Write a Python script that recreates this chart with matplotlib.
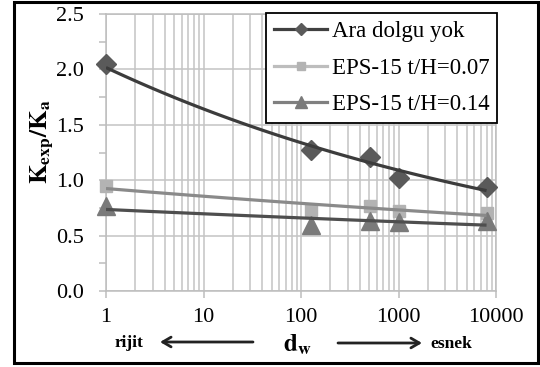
import numpy as np
import matplotlib.pyplot as plt
from matplotlib.lines import Line2D
from matplotlib.patches import Rectangle

plt.rcParams['font.family'] = 'Liberation Serif'
plt.rcParams['mathtext.fontset'] = 'stix'

# wall flexibility d_w and measured K_exp/K_a for each backfill case
dw = [1, 126, 516, 1000, 8000]
k_none = [2.05, 1.27, 1.21, 1.02, 0.94]
k_eps007 = [0.95, 0.73, 0.77, 0.725, 0.70]
k_eps014 = [0.77, 0.60, 0.63, 0.62, 0.63]
labels = ['Ara dolgu yok', 'EPS-15 t/H=0.07', 'EPS-15 t/H=0.14']


def power_trend(x, y):
    # power-law trendline y = a * x^b fitted in log-log space
    b, ln_a = np.polyfit(np.log(x), np.log(y), 1)
    xs = np.logspace(np.log10(min(x)), np.log10(max(x)), 100)
    return xs, np.exp(ln_a) * xs ** b


series = [
    # values, marker, size, marker colour, trend colour, legend line colour
    (k_none, 'D', 10, '#5a5a5a', '#3c3c3c', '#404040'),
    (k_eps007, 's', 9, '#b3b3b3', '#8a8a8a', '#bdbdbd'),
    (k_eps014, '^', 13.5, '#7a7a7a', '#4e4e4e', '#808080'),
]

fig = plt.figure(figsize=(5.4, 3.67), dpi=100)
ax = fig.add_axes([106 / 540, 1 - 291 / 367, 390 / 540, 277 / 367])

handles = []
for vals, m, ms, mc, tc, lc in series:
    ax.plot(dw, vals, linestyle='none', marker=m, markersize=ms,
            color=mc, clip_on=False, zorder=3)
    xs, ys = power_trend(dw, vals)
    ax.plot(xs, ys, color=tc, lw=2.3, zorder=4, solid_capstyle='butt')
    handles.append(Line2D([], [], color=lc, lw=2.3, marker=m,
                          markersize=ms * 0.62, mfc=mc, mec=mc))

ax.set_xscale('log')
ax.set_xlim(1, 10000)
ax.set_ylim(0, 2.5)
ax.set_yticks(np.arange(0, 2.51, 0.5))
ax.set_yticks(np.arange(0.25, 2.5, 0.5), minor=True)
ax.yaxis.set_major_formatter(plt.FormatStrFormatter('%.1f'))
ax.xaxis.set_major_formatter(plt.FuncFormatter(lambda v, p: f'{v:.0f}'))

ax.grid(True, which='major', axis='y', color='#c4c4c4', lw=1.1)
ax.grid(True, which='both', axis='x', color='#c4c4c4', lw=1.1)
ax.set_axisbelow(True)
for s in ax.spines.values():
    s.set_color('#bdbdbd')
    s.set_linewidth(1.1)

ax.tick_params(axis='y', which='both', direction='out', length=5,
               color='#bdbdbd', width=1.1, labelsize=16, pad=11)
ax.tick_params(axis='x', which='major', direction='out', length=5,
               color='#bdbdbd', width=1.1, labelsize=16, pad=7)
ax.tick_params(axis='x', which='minor', length=0)

leg = ax.legend(handles, labels, loc='upper right', bbox_to_anchor=(1.003, 1.004),
                borderaxespad=0, fancybox=False, edgecolor='black', framealpha=1,
                fontsize=16.5, handlelength=2.3, handletextpad=0.2,
                labelspacing=0.68, borderpad=0.35)
leg.get_frame().set_linewidth(1.3)

fig.text(42 / 540, 1 - 142 / 367, r'$\mathbf{K_{exp}/K_a}$', rotation=90,
         ha='center', va='center', fontsize=18)
fig.text(297 / 540, 1 - 345 / 367, r'$\mathbf{d_w}$', ha='center', va='center',
         fontsize=18)
fig.text(129 / 540, 1 - 343 / 367, 'rijit', ha='center', va='center',
         fontsize=12.5, fontweight='bold')
fig.text(451 / 540, 1 - 344 / 367, 'esnek', ha='center', va='center',
         fontsize=12.5, fontweight='bold')

arrow = dict(arrowstyle='->,head_length=0.6,head_width=0.35', lw=2, color='#222222',
             shrinkA=0, shrinkB=0)
fig.add_artist(plt.Annotation('', xy=(160 / 540, 1 - 342 / 367),
                              xytext=(253 / 540, 1 - 342 / 367),
                              xycoords='figure fraction', arrowprops=arrow))
fig.add_artist(plt.Annotation('', xy=(422 / 540, 1 - 343 / 367),
                              xytext=(338 / 540, 1 - 343 / 367),
                              xycoords='figure fraction', arrowprops=arrow))

# black frame round the whole figure
fig.add_artist(Rectangle((14 / 540, 1 - 363 / 367), 524 / 540, 361 / 367,
                         transform=fig.transFigure, fill=False, ec='black', lw=2.2))

fig.savefig('out.png', dpi=100)
